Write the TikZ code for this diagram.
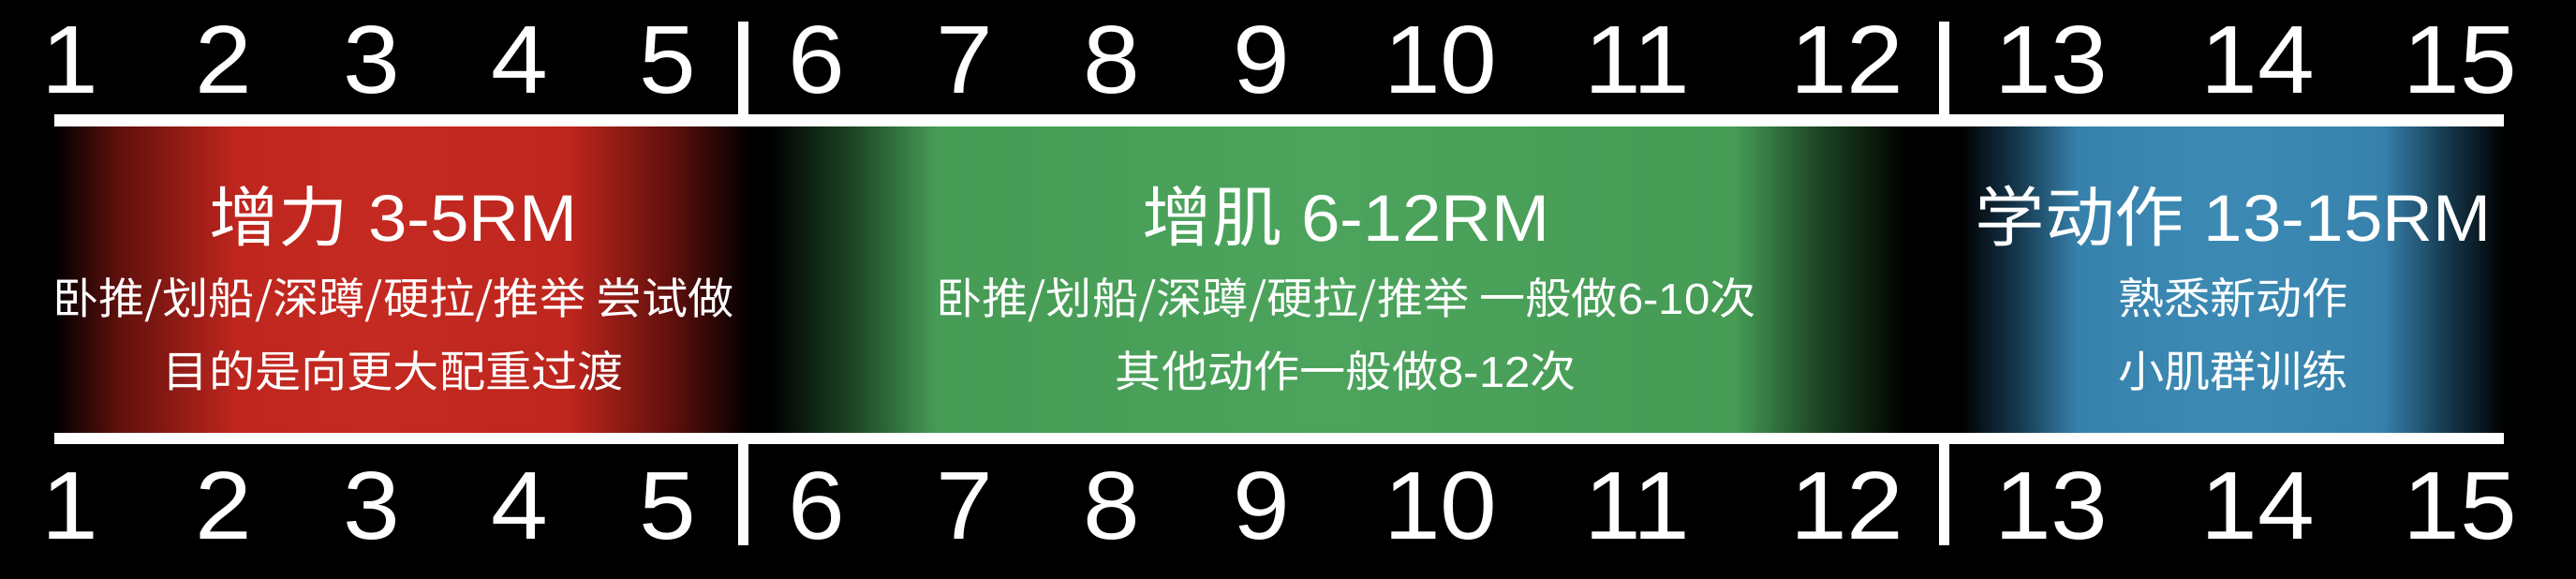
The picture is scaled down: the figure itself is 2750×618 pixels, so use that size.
\documentclass[tikz,border=0pt]{standalone}
\usepackage{fontspec}
\setmainfont[FakeStretch=1.06]{Liberation Sans}
\newfontfamily\cjk[FakeStretch=1.06]{Noto Sans CJK SC}
\newcommand{\zh}[1]{{\cjk #1}}
\newcommand{\en}[1]{{\rmfamily #1}}
\definecolor{redc}{RGB}{190,38,30}
\definecolor{redl}{RGB}{196,42,33}
\definecolor{redd}{RGB}{95,16,12}
\definecolor{greenc}{RGB}{70,155,85}
\definecolor{greenl}{RGB}{76,164,92}
\definecolor{greend}{RGB}{28,70,35}
\definecolor{bluec}{RGB}{55,130,172}
\definecolor{bluel}{RGB}{60,138,180}
\definecolor{blued}{RGB}{22,58,80}
\pgfdeclarehorizontalshading{bandshade}{100bp}{color(0bp)=(black); color(25bp)=(black);
  color(26.3bp)=(redd); color(28.7bp)=(redc); color(31.5bp)=(redl); color(35.5bp)=(redc);
  color(37.6bp)=(redd); color(39.2bp)=(black); color(39.6bp)=(black); color(41.3bp)=(greend);
  color(43bp)=(greenc); color(51bp)=(greenl); color(59.3bp)=(greenc); color(61bp)=(greend);
  color(62.8bp)=(black); color(63.9bp)=(black); color(65.1bp)=(blued); color(66.3bp)=(bluec);
  color(69.4bp)=(bluel); color(72.5bp)=(bluec); color(73.8bp)=(blued); color(75bp)=(black);
  color(100bp)=(black)}

\begin{document}
\begin{tikzpicture}[x=0.01cm,y=-0.01cm,
    num/.style={text=white,anchor=base,font=\fontsize{29.3}{35}\selectfont},
    headline/.style={text=white,anchor=base,font=\fontsize{20}{24}\selectfont},
    note/.style={text=white,anchor=base,font=\cjk\fontsize{13.2}{16}\selectfont},
    barfill/.style={fill=white}]
    \fill[black] (0,0) rectangle (2750,618);
    \useasboundingbox (0,0) rectangle (2750,618);
    % colour band
    \shade[shading=bandshade] (58,135) rectangle (2673,462);
    % rules and dividers
    \fill[barfill] (58,122) rectangle (2673,135);
    \fill[barfill] (58,462) rectangle (2673,474);
    \foreach \x in {793,2075} {
      \fill[barfill] (\x-5.5,23) rectangle (\x+5.5,122);
      \fill[barfill] (\x-5.5,474) rectangle (\x+5.5,582);
    }
    % numbers
    \foreach \n/\x in {1/75,2/239,3/397,4/555,5/713,6/872,7/1030,8/1187,9/1347,
                       10/1538,11/1748,12/1972,13/2190,14/2410,15/2626} {
      \node[num] (top\n) at (\x,99) {\n};
      \node[num] (bot\n) at (\x,575) {\n};
    }
    % labels
    \node[headline] (power) at (420,257) {\zh{增力} 3-5RM};
    \node[note] (power2) at (420,335) {卧推/划船/深蹲/硬拉/推举 尝试做};
    \node[note] (power3) at (420,413) {目的是向更大配重过渡};
    \node[headline] (hyper) at (1437,257) {\zh{增肌} 6-12RM};
    \node[note] (hyper2) at (1437,335) {卧推/划船/深蹲/硬拉/推举 一般做\en{6-10}次};
    \node[note] (hyper3) at (1437,413) {其他动作一般做\en{8-12}次};
    \node[headline] (learn) at (2384,257) {\zh{学动作} 13-15RM};
    \node[note] (learn2) at (2384,335) {熟悉新动作};
    \node[note] (learn3) at (2384,413) {小肌群训练};
  \end{tikzpicture}
\end{document}
